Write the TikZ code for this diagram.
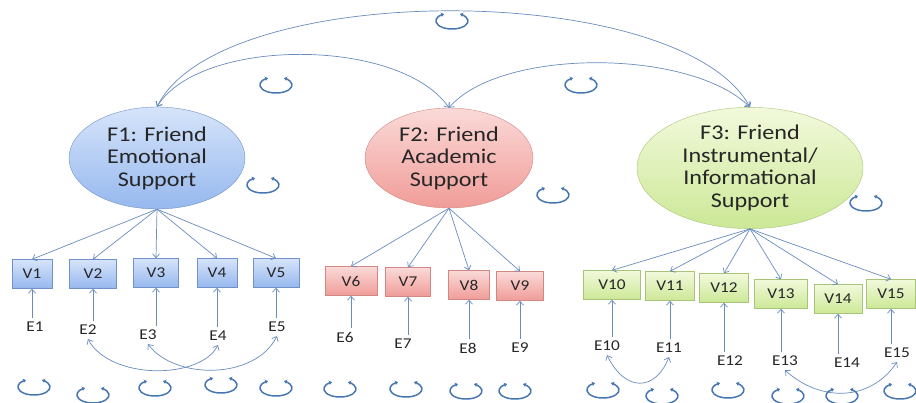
\documentclass[tikz,border=0pt]{standalone}
\usepackage{fontspec}
\setmainfont{Carlito}[FakeStretch=1.15]
\usepackage{tikz}
\usetikzlibrary{arrows.meta}
\usetikzlibrary{shapes.geometric}

\begin{document}
\begin{tikzpicture}[x={(1pt,0pt)}, y={(0pt,-1pt)},
    %Option for nice arrows
    >={Straight Barb[length=4pt,width=7pt]},
    factor/.style={ellipse, inner sep=0pt, align=center, text=black!85,
        font=\fontsize{21}{22.6}\selectfont,
        draw=#1line, top color=#1top, bottom color=#1bot},
    item/.style={rectangle, inner sep=0pt, minimum height=29, text=black!85,
        font=\fontsize{15}{16}\selectfont,
        draw=#1line, top color=#1top, bottom color=#1bot},
    err/.style={inner sep=4pt, text=black!85, font=\fontsize{15}{16}\selectfont},
    load/.style={->, color=arrowc, line width=0.7pt},
    cov/.style={<->, color=arrowc, line width=0.7pt},
    var/.style={<->, color=loopc, line width=1.5pt,
        >={Stealth[length=3pt,width=4.5pt]}},
]
    % Colors
    \definecolor{arrowc}{RGB}{104,140,190}
    \definecolor{loopc}{RGB}{70,118,178}
    \definecolor{blutop}{RGB}{214,228,250}
    \definecolor{blubot}{RGB}{150,184,238}
    \definecolor{bluline}{RGB}{112,146,200}
    \definecolor{redtop}{RGB}{250,218,216}
    \definecolor{redbot}{RGB}{240,156,152}
    \definecolor{redline}{RGB}{208,136,132}
    \definecolor{grntop}{RGB}{242,249,220}
    \definecolor{grnbot}{RGB}{204,232,150}
    \definecolor{grnline}{RGB}{168,196,120}

    \useasboundingbox (0,0) rectangle (916,402);

    % Factors
    \node[factor=blu, minimum width=176, minimum height=102] (F1) at (157,158)
        {F1: Friend\\Emotional\\Support};
    \node[factor=red, minimum width=168, minimum height=100] (F2) at (449,158)
        {F2: Friend\\Academic\\Support};
    \node[factor=grn, minimum width=226, minimum height=106] (F3) at (750,168)
        {F3: Friend\\Instrumental/\\Informational\\Support};

    % Covariances between factors
    \draw[cov] (F1.north) .. controls (220,-21) and (680,-21) .. (F3.north);
    \draw[cov] (F1.north) .. controls (200,37) and (400,37) .. (F2.north);
    \draw[cov] (F2.north) .. controls (500,48) and (690,48) .. (F3.north);

    % Observed variables
    \foreach \n/\x/\y/\w/\c in {1/32/274/40/blu, 2/93/274/47/blu, 3/156/273/45/blu,
        4/217/273/40/blu, 5/276/273/46/blu,
        6/351/281/52/red, 7/408/282/45/red, 8/469/285/41/red, 9/520/286/47/red,
        10/612/285/57/grn, 11/670/286/49/grn, 12/724/288/49/grn,
        13/781/294/53/grn, 14/838/299/48/grn, 15/891/294/49/grn}
        \node[item=\c, minimum width=\w] (V\n) at (\x,\y) {V\n};

    % Error terms
    \foreach \n/\x/\y in {1/35/327, 2/88/330, 3/148/335, 4/218/336, 5/277/327,
        6/345/337, 7/403/344, 8/468/348, 9/520/348,
        10/607/346, 11/669/348, 12/730/361, 13/785/361, 14/847/363, 15/897/353}
        \node[err] (E\n) at (\x,\y) {E\n};

    % Loadings
    \foreach \n in {1,...,5}
        \draw[load] (F1.south) -- (V\n.north);
    \foreach \n in {6,...,9}
        \draw[load] (F2.south) -- (V\n.north);
    \foreach \n in {10,...,15}
        \draw[load] (F3.south) -- (V\n.north);

    % Errors into variables
    \foreach \n in {1,...,15}
        \draw[load] (V\n.south |- E\n.north) -- (V\n.south);

    % Correlated errors
    \draw[cov] (E2.south) .. controls (110,380) and (200,380) .. (E4.south);
    \draw[cov] (E3.south) .. controls (175,380) and (255,380) .. (E5.south);
    \draw[cov] (E10.south) .. controls (625,392) and (655,392) .. (E11.south);
    \draw[cov] (E13.south) .. controls (820,402) and (870,402) .. (E15.south);

    % Variances
    \foreach \x/\y in {452/21, 276/85, 581/85, 263/185, 553/195, 866/203,
        34/387, 93/395, 155/388, 221/385, 276/388,
        340/389, 406/389, 466/391, 515/391,
        603/390, 662/396, 728/390, 788/396, 842/396, 900/391}
        \draw[var] (\x,\y) ++(120:16pt and 8pt)
            arc[start angle=120, end angle=420, x radius=16pt, y radius=8pt];

\end{tikzpicture}
\end{document}
